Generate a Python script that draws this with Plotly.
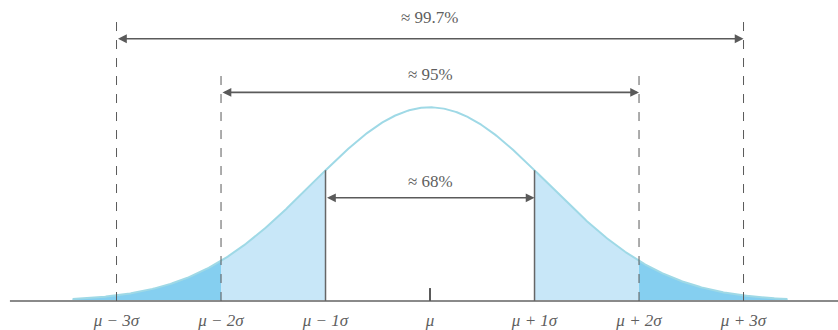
import numpy as np
import plotly.graph_objects as go

# Positions along the axis in units of sigma, with their labels
tick_sigmas = [-3, -2, -1, 0, 1, 2, 3]
tick_labels = ["μ − 3σ", "μ − 2σ", "μ − 1σ", "μ", "μ + 1σ", "μ + 2σ", "μ + 3σ"]

# Coverage brackets: half-width in sigma, label, arrow height, label height
bracket_sigmas = [3, 2, 1]
bracket_labels = ["≈ 99.7%", "≈ 95%", "≈ 68%"]
bracket_arrow_y = [1.354, 1.077, 0.533]
bracket_text_y = [1.462, 1.169, 0.615]
guide_top_y = [1.451, 1.185]   # dashed guides at ±3σ and ±2σ

# Bell curve drawn over this range (in sigma) with this relative width
curve_extent = 3.42
curve_width = 1.128

LINE = "#5a5a5a"
TEXT = "#5f5f5f"
CURVE = "#9fd9e6"
FILL_LIGHT = "#c8e7f8"
FILL_DARK = "#85cff0"
FONT = "'Liberation Serif', 'Times New Roman', serif"


def bell(u):
    return np.exp(-u ** 2 / (2 * curve_width ** 2))


fig = go.Figure()


def band(a, b, color):
    u = np.linspace(a, b, 120)
    xs = np.concatenate([[a], u, [b]])
    ys = np.concatenate([[0], bell(u), [0]])
    fig.add_trace(go.Scatter(x=xs, y=ys, mode="lines", fill="toself",
                             fillcolor=color, line=dict(width=0),
                             hoverinfo="skip", showlegend=False))


band(-curve_extent, -2, FILL_DARK)
band(-2, -1, FILL_LIGHT)
band(1, 2, FILL_LIGHT)
band(2, curve_extent, FILL_DARK)

u = np.linspace(-curve_extent, curve_extent, 600)
fig.add_trace(go.Scatter(x=u, y=bell(u), mode="lines",
                         line=dict(color=CURVE, width=2),
                         hoverinfo="skip", showlegend=False))

shapes = []
# baseline
shapes.append(dict(type="line", xref="x", yref="y", x0=-4.02, x1=4.0, y0=0, y1=0,
                   line=dict(color="#8a8a8a", width=2)))
# mean tick
shapes.append(dict(type="line", xref="x", yref="y", x0=0, x1=0, y0=0, y1=0.067,
                   line=dict(color=LINE, width=2)))
# dashed guides
for s, top in zip([3, 2], guide_top_y):
    for sign in (-1, 1):
        shapes.append(dict(type="line", xref="x", yref="y", x0=sign * s, x1=sign * s,
                           y0=0, y1=top, line=dict(color=LINE, width=1, dash="dash")))
# solid lines at ±1σ up to the curve
for sign in (-1, 1):
    shapes.append(dict(type="line", xref="x", yref="y", x0=sign, x1=sign,
                       y0=0, y1=float(bell(1.0)), line=dict(color="#666666", width=1.5)))

annotations = []
for s, lab, ay, ty in zip(bracket_sigmas, bracket_labels, bracket_arrow_y, bracket_text_y):
    annotations.append(dict(x=s, y=ay, ax=-s, ay=ay, xref="x", yref="y",
                            axref="x", ayref="y", text="", showarrow=True,
                            arrowhead=2, arrowsize=1.1, arrowwidth=1.6,
                            arrowcolor=LINE, arrowside="end+start",
                            standoff=0, startstandoff=0))
    annotations.append(dict(x=0, y=ty, xref="x", yref="y", text=lab, showarrow=False,
                            font=dict(family=FONT, size=17, color=TEXT)))

fig.update_layout(
    width=838, height=330,
    margin=dict(l=0, r=0, t=0, b=20),
    paper_bgcolor="white", plot_bgcolor="white",
    shapes=shapes, annotations=annotations,
    font=dict(family=FONT),
    xaxis=dict(range=[-4.115, 3.904], showgrid=False, zeroline=False, showline=False,
               tickmode="array", tickvals=tick_sigmas, ticktext=tick_labels,
               ticks="", tickfont=dict(family=FONT, size=17,
                                       color=TEXT, style="italic")),
    yaxis=dict(range=[-0.036, 1.554], visible=False),
)

fig.write_html("out.html")
